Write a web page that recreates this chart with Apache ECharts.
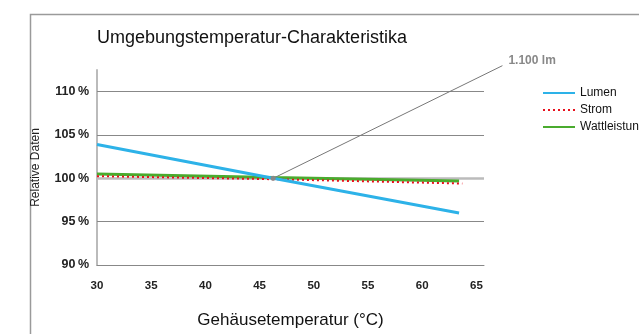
<!DOCTYPE html>
<html>
<head>
<meta charset="utf-8">
<script src="https://cdn.jsdelivr.net/npm/echarts@6/dist/echarts.min.js"></script>
<style>
  html, body { margin: 0; padding: 0; background: #fff; }
  #chart { width: 639px; height: 334px; }
</style>
</head>
<body>
<div id="chart"></div>
<script>
// Gehäusetemperatur (°C) -> relative Werte (%)
var xTicks = [30, 35, 40, 45, 50, 55, 60, 65];
var yTicks = [90, 95, 100, 105, 110];
var lumenData = [[30, 103.9], [46.25, 100.0], [63.4, 96.0]];
var stromData = [[30, 100.25], [46.25, 99.9], [63.7, 99.4]];
var wattData = [[30, 100.5], [46.25, 100.1], [63.4, 99.7]];
// Hinweislinie "1.100 lm"
var annoData = [[46.25, 100], [67.4, 113.0]];
var annoText = "1.100 lm";
var gridLevels = [95, 105, 110];
var baseLevel = [100];

var chart = echarts.init(document.getElementById("chart"));
var font = "'Liberation Sans', Arial, sans-serif";

var option = {
  animation: false,
  textStyle: { fontFamily: font },
  graphic: [{
    type: "rect",
    left: 28, top: 12,
    shape: { width: 700, height: 400 },
    style: { fill: "none", stroke: "#9a9a9a", lineWidth: 1.5 }
  }],
  title: {
    text: "Umgebungstemperatur-Charakteristika",
    left: 92, top: 24,
    textStyle: { fontSize: 18, fontWeight: "normal", color: "#111", fontFamily: font }
  },
  legend: {
    data: ["Lumen", "Strom", "Wattleistung"],
    orient: "vertical",
    left: 537, top: 82,
    itemWidth: 32, itemHeight: 12, itemGap: 5,
    itemStyle: { opacity: 0 },
    textStyle: { fontSize: 12, color: "#111" }
  },
  grid: { left: 97, right: 155, top: 70, bottom: 68 },
  xAxis: {
    type: "value",
    min: 30, max: 65.7,
    name: "Gehäusetemperatur (°C)",
    nameLocation: "middle", nameGap: 47,
    nameTextStyle: { fontSize: 17, color: "#111" },
    axisLine: { show: true, lineStyle: { color: "#888", width: 1 } },
    axisTick: { show: false },
    splitLine: { show: false },
    axisLabel: {
      customValues: xTicks,
      margin: 15, fontSize: 11.5, fontWeight: "bold", color: "#222"
    }
  },
  yAxis: {
    type: "value",
    min: 90, max: 112.5,
    name: "Relative Daten",
    nameLocation: "middle", nameGap: 55, nameRotate: 90,
    nameTextStyle: { fontSize: 12, color: "#222" },
    axisLine: { show: true, lineStyle: { color: "#bbb", width: 2 } },
    axisTick: { show: false },
    splitLine: { show: false },
    axisLabel: {
      customValues: yTicks,
      margin: 8, fontSize: 12.5, fontWeight: "bold", color: "#222",
      formatter: function (v) { return v + "\u2009%"; }
    }
  },
  series: [
    {
      name: "grid", type: "line", data: [], z: 1, silent: true,
      markLine: {
        silent: true, symbol: "none", label: { show: false }, z: 1,
        lineStyle: { type: "solid", color: "#888", width: 1 },
        data: gridLevels.map(function (v) { return { yAxis: v }; })
          .concat(baseLevel.map(function (v) {
            return { yAxis: v, lineStyle: { color: "#bbb", width: 2.5 } };
          }))
      }
    },
    {
      name: "Wattleistung", type: "line", data: wattData, symbol: "none", z: 10,
      lineStyle: { color: "#4aab2e", width: 3 }, itemStyle: { color: "#4aab2e" }
    },
    {
      name: "Strom", type: "line", data: stromData, symbol: "none", z: 11,
      lineStyle: { color: "#e8101c", width: 2, type: [2, 3] }, itemStyle: { color: "#e8101c" }
    },
    {
      name: "Lumen", type: "line", data: lumenData, symbol: "none", z: 12,
      lineStyle: { color: "#2db2e8", width: 3 }, itemStyle: { color: "#2db2e8" }
    },
    {
      name: "anno", type: "custom", z: 13, silent: true,
      data: [annoData[0].concat(annoData[1])],
      renderItem: function (params, api) {
        var p0 = api.coord([api.value(0), api.value(1)]);
        var p1 = api.coord([api.value(2), api.value(3)]);
        return {
          type: "group",
          children: [
            { type: "line", shape: { x1: p0[0], y1: p0[1], x2: p1[0], y2: p1[1] },
              style: { stroke: "#777", lineWidth: 1 } },
            { type: "circle", shape: { cx: p0[0], cy: p0[1], r: 2.5 },
              style: { fill: "#888" } },
            { type: "text", x: p1[0] + 6, y: p1[1] - 5,
              style: { text: annoText, fill: "#888", font: "bold 12px " + font,
                       verticalAlign: "middle", align: "left" } }
          ]
        };
      }
    }
  ]
};

chart.setOption(option);
</script>
</body>
</html>
